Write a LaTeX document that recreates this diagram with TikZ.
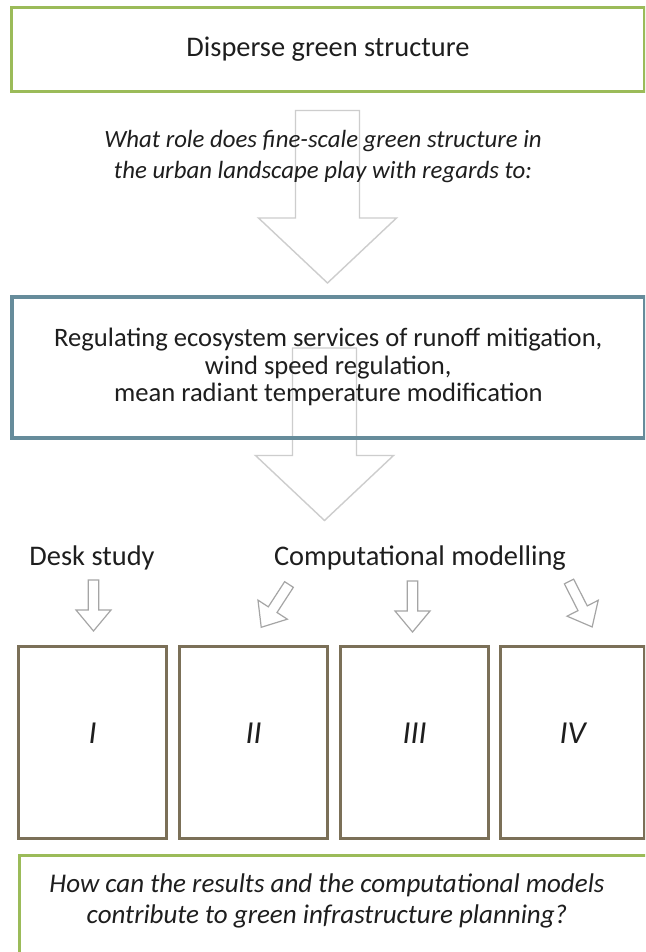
\documentclass[tikz,border=0pt]{standalone}
\usepackage{fontspec}
\setmainfont{Carlito}
\usetikzlibrary{calc,positioning}
\definecolor{ink}{HTML}{1E1E1E}
\definecolor{leaf}{HTML}{9BBB59}
\definecolor{steel}{HTML}{668C9B}
\definecolor{umber}{HTML}{7B7058}
\definecolor{ghost}{HTML}{CDCDCD}
\definecolor{ash}{HTML}{A5A5A5}
\tikzset{
  box/.style={draw=#1, line width=2.8pt, anchor=north west, inner sep=0pt},
  txt/.style={text=ink, font=\fontsize{26.6}{27.5}\selectfont, align=center},
  head/.style={text=ink, font=\fontsize{28.4}{30}\selectfont},
  itxt/.style={text=ink, font=\fontsize{#1}{31}\selectfont\itshape, align=center},
  numlab/.style={text=ink, font=\fontsize{32}{32}\selectfont\itshape},
  fat/.style={draw=ghost, line width=1.4pt, line join=miter},
  slim/.style={draw=ash, line width=1.2pt, line join=miter},
  bigarrow/.pic={
    \draw[fat] (-32,0) -- (32,0) -- (32,107.5) -- (69,107.5) -- (0,172.5)
      -- (-69,107.5) -- (-32,107.5) -- cycle;
  },
  smallarrow/.pic={
    \draw[slim] (-5.2,0) -- (5.2,0) -- (5.2,30) -- (17.5,30) -- (0,51)
      -- (-17.5,30) -- (-5.2,30) -- cycle;
  },
}
\begin{document}
\begin{tikzpicture}[x=1pt,y=-1pt]
  \clip (0,0) rectangle (645,952);
  \fill[white] (0,0) rectangle (645,952);

  % block arrows, behind the boxes
  \pic at (327.5,110.5) {bigarrow};
  \pic at (324.5,348) {bigarrow};
  \pic at (93.5,580) {smallarrow};
  \pic[rotate=-33] at (289,584.5) {smallarrow};
  \pic at (412.5,581) {smallarrow};
  \pic[rotate=27] at (569,581.5) {smallarrow};

  \node[box=leaf, minimum width=633pt, minimum height=84pt, head] (dgs) at (10,6)
    {Disperse green structure};
  \node[itxt=24.8] (role) at (323,157)
    {What role does fine-scale green structure in\\the urban landscape play with regards to:};

  \node[box=steel, line width=3.6pt, minimum width=633pt, minimum height=141pt, txt] (res) at (10,295)
    {Regulating ecosystem services of runoff mitigation,\\wind speed regulation,\\mean radiant temperature modification};

  \node[head] (desk) at (92,558) {Desk study};
  \node[head] (comp) at (420,558) {Computational modelling};

  \node[box=umber, line width=3.2pt, minimum width=148pt, minimum height=192pt] (s1) at (17,645) {};
  \node[box=umber, line width=3.2pt, minimum width=148pt, minimum height=192pt] (s2) at (178,645) {};
  \node[box=umber, line width=3.2pt, minimum width=148pt, minimum height=192pt] (s3) at (339,645) {};
  \node[box=umber, line width=3.2pt, minimum width=144pt, minimum height=192pt] (s4) at (499,645) {};
  \node[numlab] (n1) at ([yshift=9pt]s1.center) {I};
  \node[numlab] (n2) at ([yshift=9pt]s2.center) {II};
  \node[numlab] (n3) at ([yshift=9pt]s3.center) {III};
  \node[numlab] (n4) at ([yshift=9pt]s4.center) {IV};

  \node[box=leaf, minimum width=650pt, minimum height=130pt] (plan) at (18,854) {};
  \node[itxt=27] (how) at (327,901)
    {How can the results and the computational models\\contribute to green infrastructure planning?};
\end{tikzpicture}
\end{document}
